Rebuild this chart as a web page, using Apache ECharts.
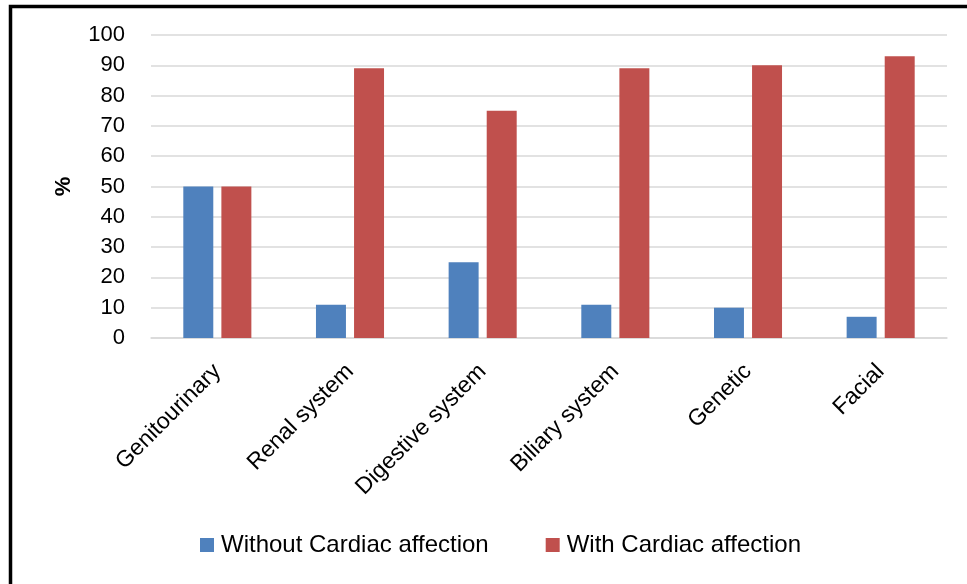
<!DOCTYPE html>
<html><head><meta charset="utf-8">
<script src="https://cdn.jsdelivr.net/npm/echarts@6/dist/echarts.min.js"></script>
<style>html,body{margin:0;padding:0;background:#fff}#c{width:967px;height:584px}</style>
</head><body><div id="c"></div>
<script>
const categories = ['Genitourinary','Renal system','Digestive system','Biliary system','Genetic','Facial'];
const withoutCardiac = [50, 11, 25, 11, 10, 7];
const withCardiac = [50, 89, 75, 89, 90, 93];
const yTicks = {min: 0, max: 100, interval: 10};
const seriesNames = ['Without Cardiac affection', 'With Cardiac affection'];

const font = 'Liberation Sans, Arial, sans-serif';
const chart = echarts.init(document.getElementById('c'));
chart.setOption({
  animation: false,
  color: ['#4f81bd', '#c0504d'],
  graphic: [{type: 'rect', shape: {x: 10.5, y: 6.5, width: 1200, height: 1200},
    style: {fill: 'none', stroke: '#000', lineWidth: 3.5}, z: 100}],
  grid: {left: 151, right: 20, top: 35, bottom: 246},
  legend: {
    data: seriesNames, bottom: 22, left: 195, itemWidth: 14, itemHeight: 14, itemGap: 57,
    icon: 'rect', textStyle: {fontSize: 24, color: '#000', fontFamily: font, padding: [0, 0, 0, 2]}
  },
  xAxis: {
    type: 'category', data: categories,
    axisLine: {lineStyle: {color: '#d9d9d9', width: 1.5}},
    axisTick: {show: false},
    axisLabel: {rotate: 45, fontSize: 23, color: '#000', fontFamily: font, margin: 30, interval: 0}
  },
  yAxis: {
    type: 'value', min: yTicks.min, max: yTicks.max, interval: yTicks.interval,
    name: '%', nameLocation: 'middle', nameGap: 76, nameRotate: 90,
    nameTextStyle: {fontSize: 22, fontWeight: 'bold', color: '#000', fontFamily: font},
    axisLine: {show: false}, axisTick: {show: false},
    splitLine: {lineStyle: {color: '#d9d9d9', width: 1.5}},
    axisLabel: {fontSize: 22, color: '#000', fontFamily: font, margin: 26}
  },
  series: [
    {name: seriesNames[0], type: 'bar', data: withoutCardiac, barWidth: '22.6%', barGap: '27%'},
    {name: seriesNames[1], type: 'bar', data: withCardiac, barWidth: '22.6%', barGap: '27%'}
  ]
});
</script></body></html>
